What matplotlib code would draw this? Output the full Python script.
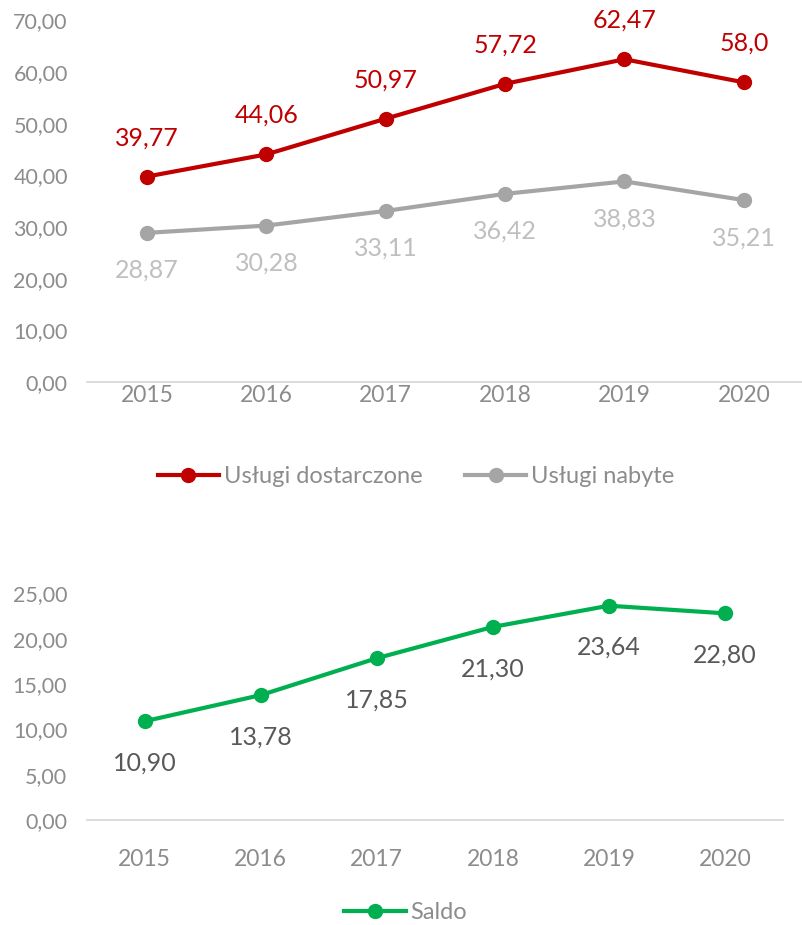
import matplotlib
matplotlib.use("Agg")
import matplotlib.pyplot as plt

plt.rcParams["font.family"] = ["Lato", "DejaVu Sans"]

years = ["2015", "2016", "2017", "2018", "2019", "2020"]
dostarczone = [39.77, 44.06, 50.97, 57.72, 62.47, 58.0]
dostarczone_lbl = ["39,77", "44,06", "50,97", "57,72", "62,47", "58,0"]
nabyte = [28.87, 30.28, 33.11, 36.42, 38.83, 35.21]
saldo = [10.90, 13.78, 17.85, 21.30, 23.64, 22.80]

RED = "#C00000"
GRAY = "#A5A5A5"
GREEN = "#00B050"
TICK = "#8C8C8C"
AXIS = "#D9D9D9"


def fmt(v):
    return f"{v:.2f}".replace(".", ",")


def style(ax, ymax, step, xpad):
    x = list(range(len(years)))
    ax.set_xlim(-0.5, len(years) - 0.5)
    ax.set_ylim(0, ymax)
    ax.set_xticks(x)
    ax.set_xticklabels(years)
    ax.set_yticks([i * step for i in range(int(ymax / step) + 1)])
    ax.set_yticklabels([fmt(i * step) for i in range(int(ymax / step) + 1)])
    for s in ["top", "right", "left"]:
        ax.spines[s].set_visible(False)
    ax.spines["bottom"].set_color(AXIS)
    ax.spines["bottom"].set_linewidth(1.3)
    ax.tick_params(length=0, labelsize=15.5, colors=TICK)
    ax.tick_params(axis="x", pad=xpad, labelsize=16.5)
    ax.tick_params(axis="y", pad=14)
    ax.patch.set_alpha(0)


fig = plt.figure(figsize=(8.03, 9.25), dpi=100)

# górny wykres
ax1 = fig.add_axes([0.1087, 0.587, 0.892, 0.391])
x = list(range(len(years)))
l1, = ax1.plot(x, dostarczone, color=RED, lw=3, marker="o", ms=10,
               label="Usługi dostarczone", clip_on=False)
l2, = ax1.plot(x, nabyte, color=GRAY, lw=3, marker="o", ms=10,
               label="Usługi nabyte", clip_on=False)
style(ax1, 70, 10, 2)
for xi, v, t in zip(x, dostarczone, dostarczone_lbl):
    ax1.annotate(t, (xi, v), xytext=(0, 28), textcoords="offset points",
                 ha="center", va="center", color=RED, fontsize=18)
for xi, v in zip(x, nabyte):
    ax1.annotate(fmt(v), (xi, v), xytext=(0, -27), textcoords="offset points",
                 ha="center", va="center", color="#BFBFBF", fontsize=18)
fig.legend(handles=[l1, l2], loc="center", bbox_to_anchor=(0.518, 0.485),
           ncol=2, frameon=False, fontsize=17, labelcolor="#8C8C8C",
           handlelength=2.6, handletextpad=0.2, columnspacing=1.8)

# dolny wykres
ax2 = fig.add_axes([0.108, 0.1135, 0.867, 0.245])
l3, = ax2.plot(x, saldo, color=GREEN, lw=3, marker="o", ms=10,
               label="Saldo", clip_on=False)
style(ax2, 25, 5, 21)
for xi, v in zip(x, saldo):
    ax2.annotate(fmt(v), (xi, v), xytext=(0, -30), textcoords="offset points",
                 ha="center", va="center", color="#595959", fontsize=18)
fig.legend(handles=[l3], loc="center", bbox_to_anchor=(0.505, 0.013),
           frameon=False, fontsize=17, labelcolor="#8C8C8C",
           handlelength=2.6, handletextpad=0.2)

fig.savefig("out.png", dpi=100)
